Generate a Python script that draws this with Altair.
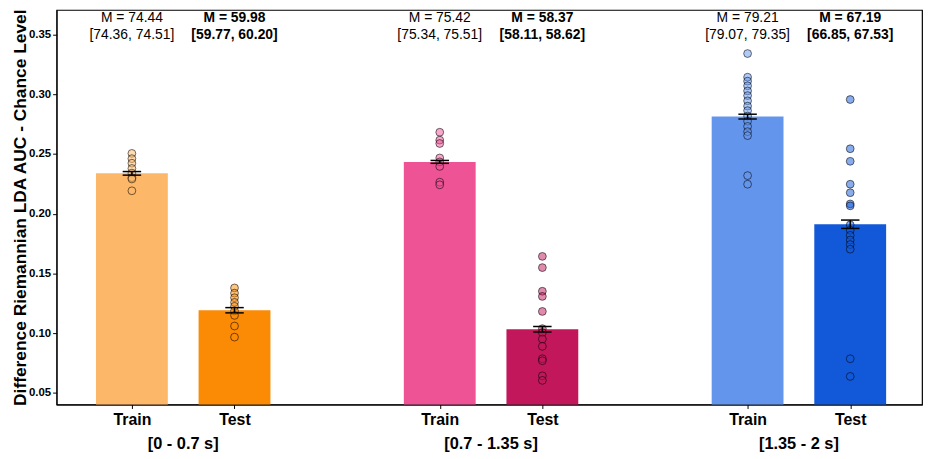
import altair as alt
import pandas as pd

# ---------------- data ----------------
groups = ["[0 - 0.7 s]", "[0.7 - 1.35 s]", "[1.35 - 2 s]"]
group_pos = [0.5, 3.5, 6.5]
conditions = ["Train", "Test", "Train", "Test", "Train", "Test"]
bar_ids = ["Train 1", "Test 1", "Train 2", "Test 2", "Train 3", "Test 3"]
positions = [0, 1, 3, 4, 6, 7]
means = [0.2338, 0.1192, 0.2434, 0.1033, 0.2813, 0.1912]
sems = [0.0015, 0.0022, 0.0012, 0.0023, 0.0020, 0.0035]
colors = ["#FDB768", "#FB8A05", "#EE5396", "#C2185B", "#6495ED", "#1259D9"]
ann_mean = ["M = 74.44", "M = 59.98", "M = 75.42", "M = 58.37", "M = 79.21", "M = 67.19"]
ann_ci = ["[74.36, 74.51]", "[59.77, 60.20]", "[75.34, 75.51]",
          "[58.11, 58.62]", "[79.07, 79.35]", "[66.85, 67.53]"]

points_train1 = [0.2505, 0.2461, 0.2423, 0.2379, 0.2340, 0.2302, 0.2291, 0.2192]
points_test1 = [0.1379, 0.1335, 0.1297, 0.1258, 0.1225, 0.1187, 0.1149, 0.1060, 0.0967]
points_train2 = [0.2682, 0.2616, 0.2588, 0.2467, 0.2434, 0.2396, 0.2264, 0.2242]
points_test2 = [0.1643, 0.1549, 0.1351, 0.1308, 0.1182, 0.1038, 0.1005, 0.0951,
                0.0890, 0.0786, 0.0769, 0.0643, 0.0605]
points_train3 = [0.3341, 0.3143, 0.3110, 0.3071, 0.3028, 0.2989, 0.2945, 0.2901,
                 0.2863, 0.2818, 0.2775, 0.2731, 0.2687, 0.2654, 0.2319, 0.2247]
points_test3 = [0.2956, 0.2544, 0.2439, 0.2247, 0.2176, 0.2082, 0.2066, 0.1907,
                0.1862, 0.1819, 0.1780, 0.1742, 0.1703, 0.0786, 0.0638]
all_points = [points_train1, points_test1, points_train2, points_test2,
              points_train3, points_test3]

# ---------------- tables ----------------
bars = pd.DataFrame({
    "bar": bar_ids, "cond": conditions, "pos": positions,
    "mean": means, "sem": sems, "m_text": ann_mean, "ci_text": ann_ci,
})
pts = pd.DataFrame(
    [{"bar": b, "pos": p, "value": v}
     for b, p, vals in zip(bar_ids, positions, all_points) for v in vals]
)
grp = pd.DataFrame({"group": groups, "pos": group_pos})

FONT = "Liberation Sans"
W, H = 873, 398
xscale = alt.Scale(domain=[-0.734, 7.70], nice=False, zero=False)
yscale = alt.Scale(domain=[0.0403, 0.3706], nice=False, zero=False)
cscale = alt.Scale(domain=bar_ids, range=colors)
BAR_HALF = 0.35
CAP_HALF = 0.09

base = alt.Chart(bars)

bar_layer = base.transform_calculate(
    x0=f"datum.pos - {BAR_HALF}", x1=f"datum.pos + {BAR_HALF}", zero="0"
).mark_rect(clip=True).encode(
    x=alt.X("x0:Q", scale=xscale,
            axis=alt.Axis(values=positions, title=None, grid=False,
                          labelExpr="datum.value % 3 == 0 ? 'Train' : 'Test'",
                          labelFont=FONT, labelFontSize=16, labelFontWeight="bold",
                          labelColor="black", tickColor="black", tickSize=4,
                          labelPadding=3, domainColor="black", labelFlush=False)),
    x2="x1:Q",
    y=alt.Y("mean:Q", scale=yscale,
            axis=alt.Axis(values=[0.05, 0.10, 0.15, 0.20, 0.25, 0.30, 0.35],
                          format=".2f", grid=False,
                          title="Difference Riemannian LDA AUC - Chance Level",
                          titleFont=FONT, titleFontSize=17.5, titleFontWeight="bold",
                          titleColor="black", titleX=-31, titleY=H / 2,
                          titleAngle=270, titleBaseline="alphabetic",
                          labelFont=FONT, labelFontSize=11.5, labelFontWeight="bold",
                          labelColor="black", tickColor="black", tickSize=4,
                          labelPadding=2, domainColor="black")),
    y2="zero:Q",
    color=alt.Color("bar:N", scale=cscale, legend=None),
)

point_layer = alt.Chart(pts).mark_circle(
    size=62, opacity=1, fillOpacity=0.5, stroke="black", strokeOpacity=0.55,
    strokeWidth=1, clip=True
).encode(
    x=alt.X("pos:Q", scale=xscale),
    y=alt.Y("value:Q", scale=yscale),
    color=alt.Color("bar:N", scale=cscale, legend=None),
)

err_layer = base.transform_calculate(
    lo="datum.mean - datum.sem", hi="datum.mean + datum.sem"
).mark_rule(color="black", strokeWidth=1.5).encode(
    x=alt.X("pos:Q", scale=xscale),
    y=alt.Y("lo:Q", scale=yscale),
    y2="hi:Q",
)

cap_layer = base.transform_calculate(
    lo="datum.mean - datum.sem", hi="datum.mean + datum.sem",
    cx0=f"datum.pos - {CAP_HALF}", cx1=f"datum.pos + {CAP_HALF}"
).transform_fold(["lo", "hi"], as_=["which", "yv"]).mark_rule(
    color="black", strokeWidth=1.5
).encode(
    x=alt.X("cx0:Q", scale=xscale),
    x2="cx1:Q",
    y=alt.Y("yv:Q", scale=yscale),
)

def ann(cond, field, ypix, weight):
    return base.transform_filter(f"datum.cond == '{cond}'").mark_text(
        font=FONT, fontSize=14, fontWeight=weight, color="black",
        align="center", baseline="middle"
    ).encode(
        x=alt.X("pos:Q", scale=xscale),
        y=alt.value(ypix),
        text=f"{field}:N",
    )

ann_layers = [
    ann("Train", "m_text", 8.5, "normal"),
    ann("Train", "ci_text", 25, "normal"),
    ann("Test", "m_text", 8.5, "bold"),
    ann("Test", "ci_text", 25, "bold"),
]

group_layer = alt.Chart(grp).mark_text(
    font=FONT, fontSize=16.5, fontWeight="bold", color="black",
    align="center", baseline="middle"
).encode(
    x=alt.X("pos:Q", scale=xscale),
    y=alt.value(438),
    text="group:N",
)

chart = alt.layer(
    bar_layer, point_layer, err_layer, cap_layer, *ann_layers, group_layer
).properties(
    width=W, height=H,
    autosize=alt.AutoSizeParams(type="none"),
    padding={"left": 49, "top": 0, "right": 5, "bottom": 50},
    background="white",
).configure_view(
    stroke="black", strokeWidth=1.2
)

chart.save("out.html", embed_options={"renderer": "svg", "actions": False})
